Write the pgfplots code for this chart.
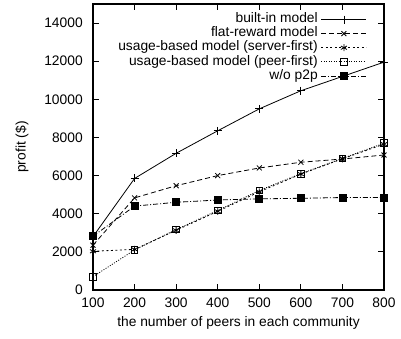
\documentclass[border=0pt]{standalone}
\usepackage{pgfplots}
\pgfplotsset{compat=1.18}
\usepackage{fontspec}
\setmainfont{Liberation Sans}
\begin{document}
\fontsize{13.8}{16}\selectfont
\begin{tikzpicture}
\begin{axis}[
  scale only axis,
  width=291pt, height=286pt,
  xmin=100, xmax=800, ymin=0, ymax=15000,
  xtick={100,200,...,800},
  ytick={0,2000,...,14000},
  tick align=inside,
  major tick length=6pt,
  axis line style={line width=1.6pt},
  every tick/.style={line width=1.1pt, black},
  scaled y ticks=false,
  /pgf/number format/assume math mode=true,
  yticklabel style={/pgf/number format/1000 sep={}, xshift=-5.5pt},
  xticklabel style={/pgf/number format/1000 sep={}, yshift=-3.5pt},
  xlabel={the number of peers in each community},
  ylabel={profit (\$)},
  xlabel style={at={(axis description cs:0.5,-0.1154)}, anchor=center},
  ylabel style={at={(axis description cs:-0.244,0.5)}, anchor=center},
  legend cell align=right,
  legend plot pos=right,
  legend style={draw=none, fill=none, at={(axis description cs:0.9416,0.971)}, anchor=north east,
    row sep=0pt, inner sep=0pt, column sep=3pt,
    nodes={text height=10pt, text depth=3.5pt, inner sep=0.3pt}},
  legend image code/.code={\draw[#1,mark=none] (0pt,0pt) -- (45pt,0pt);
     \draw[#1, only marks] plot coordinates {(22.5pt,0pt)};},
  every axis plot/.append style={line width=0.8pt},
]
\addplot[black, solid, mark=+, mark size=4pt, mark options={solid}] coordinates {
(100,2800) (200,5850) (300,7170) (400,8350) (500,9500) (600,10450) (700,11200) (800,11950)};
\addlegendentry{built-in model}
\addplot[black, dash pattern=on 5pt off 3pt, mark=x, mark size=3.5pt, mark options={solid}] coordinates {
(100,2350) (200,4830) (300,5470) (400,6000) (500,6400) (600,6700) (700,6870) (800,7080)};
\addlegendentry{flat-reward model}
\addplot[black, dash pattern=on 2pt off 2.5pt, mark=asterisk, mark size=3.5pt, mark options={solid}] coordinates {
(100,2030) (200,2130) (300,3130) (400,4130) (500,5150) (600,6080) (700,6880) (800,7650)};
\addlegendentry{usage-based model (server-first)}
\addplot[black, dash pattern=on 1pt off 1.5pt, mark=square, mark size=3.3pt, mark options={solid}] coordinates {
(100,700) (200,2100) (300,3170) (400,4170) (500,5220) (600,6100) (700,6900) (800,7700)};
\addlegendentry{usage-based model (peer-first)}
\addplot[black, dash pattern=on 5pt off 2pt on 1pt off 2pt, mark=square*, mark size=3.5pt, mark options={solid}] coordinates {
(100,2820) (200,4400) (300,4600) (400,4720) (500,4780) (600,4810) (700,4850) (800,4850)};
\addlegendentry{w/o p2p}
\end{axis}
\pgfresetboundingbox
\path[use as bounding box] ([xshift=-93pt,yshift=-49pt]current axis.south west) rectangle ([xshift=17pt,yshift=4pt]current axis.north east);
\end{tikzpicture}
\end{document}
